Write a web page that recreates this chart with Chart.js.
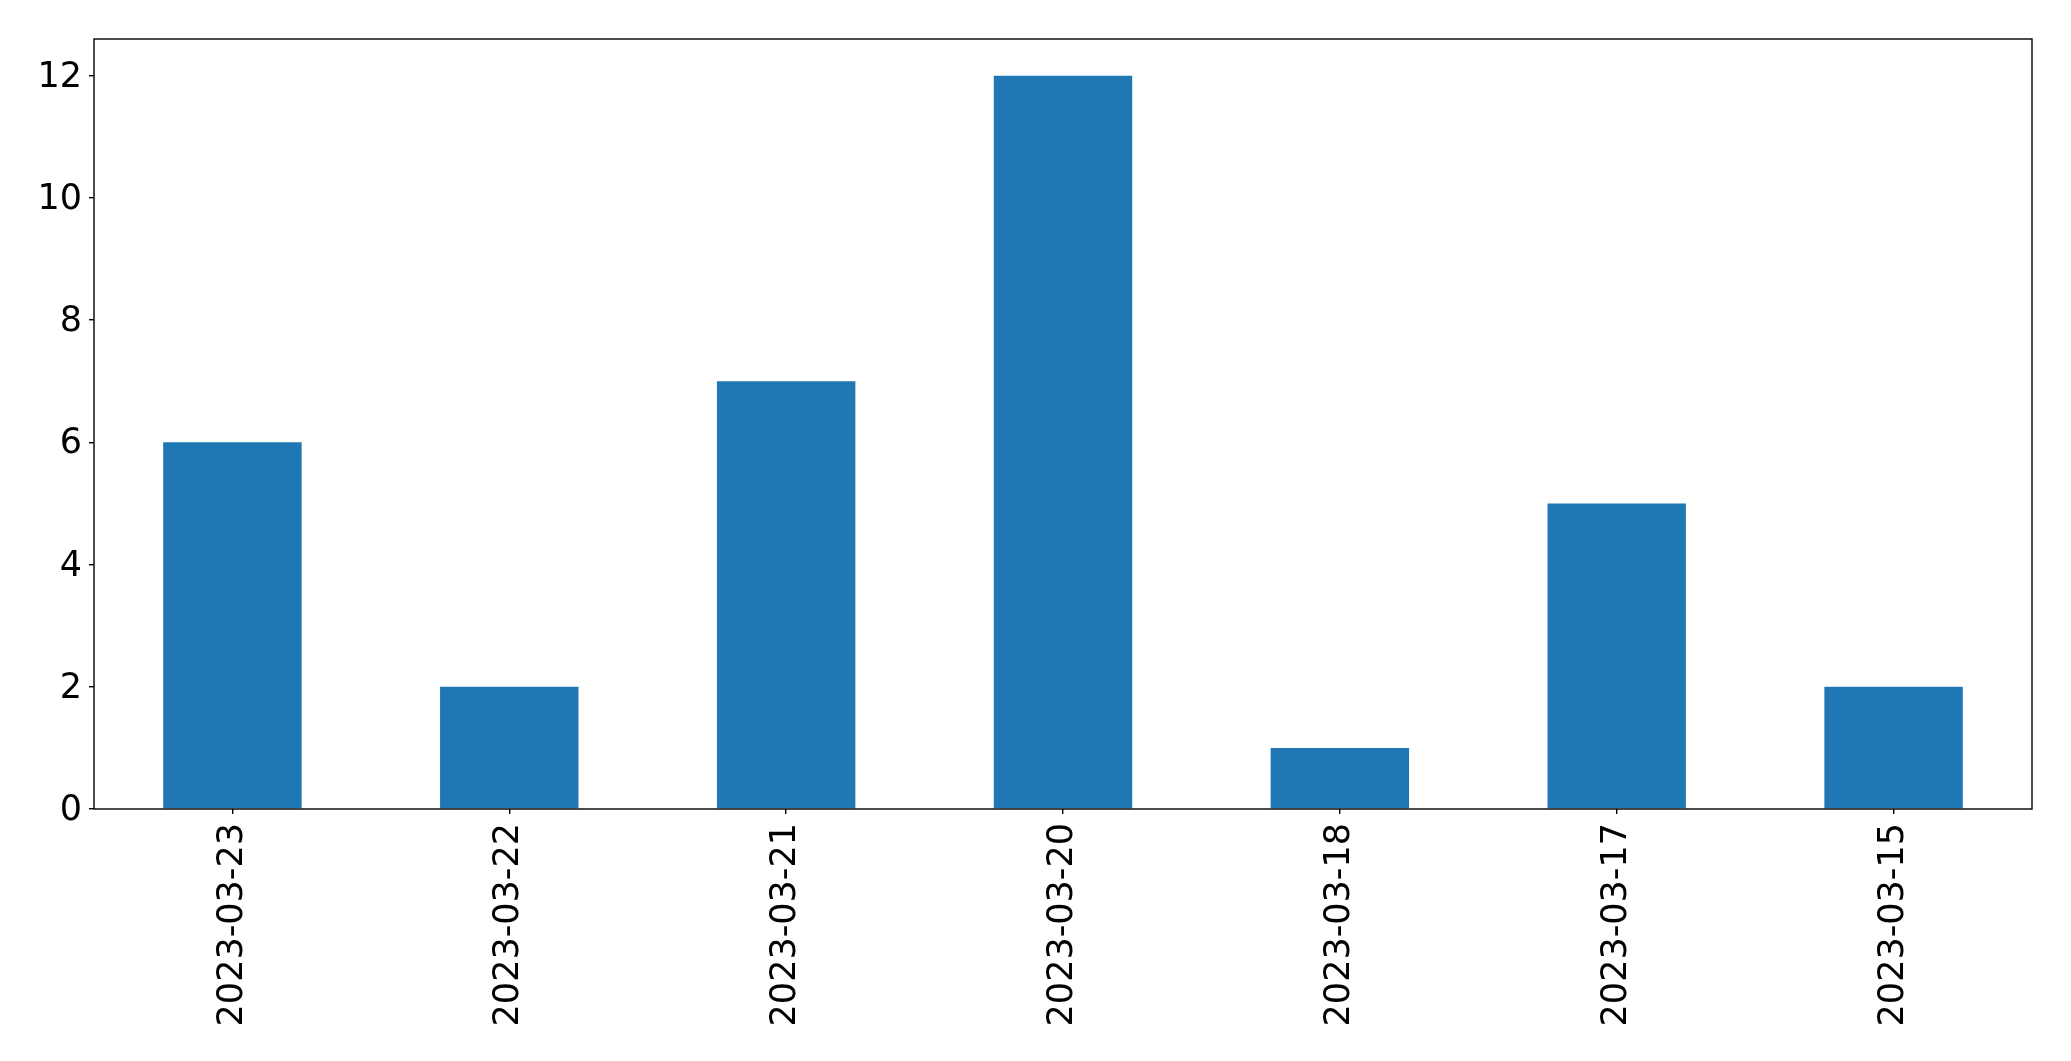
<!DOCTYPE html>
<html>
<head>
<meta charset="utf-8">
<script src="https://cdn.jsdelivr.net/npm/chart.js@4/dist/chart.umd.min.js"></script>
<style>
  html, body { margin: 0; padding: 0; background: #fff; }
  canvas { display: block; }
</style>
</head>
<body>
<canvas id="chart" width="2071" height="1061"></canvas>
<script>
// Daily counts, bar chart (dates newest first, like the source)

const DATES = ["2023-03-23", "2023-03-22", "2023-03-21", "2023-03-20", "2023-03-18", "2023-03-17", "2023-03-15"];
const COUNTS = [6, 2, 7, 12, 1, 5, 2];
const Y_MAX = 12.6;
const Y_STEP = 2;

const FONT = { family: "'DejaVu Sans', sans-serif", size: 35 };

// box around the plot area (all four sides)
const frame = {
  id: "frame",
  afterDraw(chart) {
    const { ctx, chartArea: a } = chart;
    ctx.save();
    ctx.strokeStyle = "#000";
    ctx.lineWidth = 1.4;
    ctx.strokeRect(a.left, a.top, a.right - a.left, a.bottom - a.top);
    ctx.restore();
  },
};

new Chart(document.getElementById("chart").getContext("2d"), {
  type: "bar",
  data: {
    labels: DATES,
    datasets: [{
      data: COUNTS,
      backgroundColor: "#1f77b4",
      borderWidth: 0,
      barPercentage: 0.5,
      categoryPercentage: 1.0,
    }],
  },
  options: {
    responsive: false,
    animation: false,
    layout: { padding: { left: 0, top: 39, right: 39, bottom: 0 } },
    plugins: { legend: { display: false }, tooltip: { enabled: false } },
    scales: {
      x: {
        grid: { display: true, drawOnChartArea: false, drawTicks: true, tickLength: 5, offset: false, color: "#000", lineWidth: 1.4 },
        border: { display: false },
        ticks: { color: "#000", font: FONT, minRotation: 90, maxRotation: 90, padding: 9, autoSkip: false },
        afterFit: (s) => { s.height = 1061 - 809; },
      },
      y: {
        min: 0,
        max: Y_MAX,
        grid: { display: true, drawOnChartArea: false, drawTicks: true, tickLength: 5, color: "#000", lineWidth: 1.4 },
        border: { display: false },
        ticks: { color: "#000", font: FONT, stepSize: Y_STEP, includeBounds: false, padding: 7, labelOffset: 2 },
        afterFit: (s) => { s.width = 94; },
      },
    },
  },
  plugins: [frame],
});
</script>
</body>
</html>
